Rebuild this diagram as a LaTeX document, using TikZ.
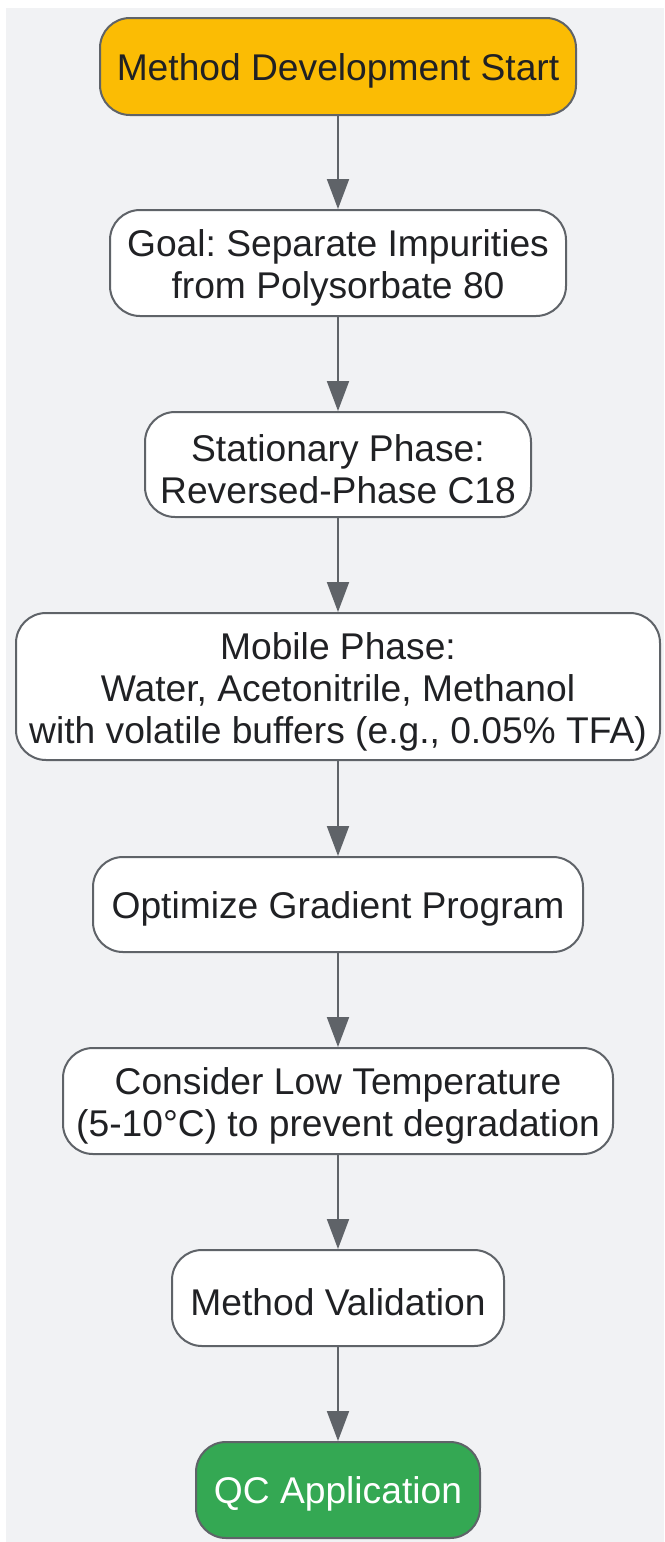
\documentclass[tikz,border=0pt]{standalone}
\usepackage{fontspec}
\setmainfont{Liberation Sans}
\usetikzlibrary{arrows.meta}
\definecolor{bggray}{HTML}{F1F2F4}
\definecolor{edgegray}{HTML}{5F6368}
\definecolor{txt}{HTML}{202124}
\definecolor{startyellow}{HTML}{FBBC04}
\definecolor{qcgreen}{HTML}{34A853}
\frenchspacing
\begin{document}
\begin{tikzpicture}[x=0.5pt,y=-0.5pt,
  box/.style={draw=edgegray, line width=1pt, rounded corners=15pt, fill=white, inner sep=0pt},
  lbl/.style={text=txt, align=center, inner sep=0pt, yshift=-2.5pt,
    font=\fontsize{18.6pt}{21pt}\selectfont\frenchspacing},
  lblone/.style={lbl, yshift=0.5pt},
  conn/.style={draw=edgegray, line width=1pt, -{Triangle[length=15pt,width=11pt]}}]
\useasboundingbox (0,0) rectangle (664,1542);
\fill[white] (0,0) rectangle (664,1542);
\fill[bggray] (6,8) rectangle (664,1542);
\node[box, fill=startyellow, minimum width=238pt, minimum height=48.5pt,
  label={[lblone, name=startT]center:Method Development Start}] (start) at (338,66.5) {};
\node[box, minimum width=228pt, minimum height=53pt,
  label={[lbl, name=goalT]center:Goal: Separate Impurities\\from Polysorbate 80}] (goal) at (338,263) {};
\node[box, minimum width=193pt, minimum height=52.5pt,
  label={[lbl, name=statT]center:Stationary Phase:\\Reversed-Phase C18}] (stat) at (338,464.5) {};
\node[box, minimum width=322pt, minimum height=73.5pt,
  label={[lbl, name=mobT]center:Mobile Phase:\\Water, Acetonitrile, Methanol\\with volatile buffers (e.g.{,} 0.05\% TFA)}] (mob) at (338,686.5) {};
\node[box, minimum width=245pt, minimum height=47.5pt,
  label={[lblone, name=optT]center:Optimize Gradient Program}] (opt) at (338,904.5) {};
\node[box, minimum width=275pt, minimum height=53pt,
  label={[lbl, name=consT]center:Consider Low Temperature\\(5-10°C) to prevent degradation}] (cons) at (338,1101) {};
\node[box, minimum width=166pt, minimum height=48pt,
  label={[lblone, name=valT]center:Method Validation}] (val) at (338,1298) {};
\node[box, fill=qcgreen, minimum width=142pt, minimum height=48pt,
  label={[lblone, text=white, name=qcT]center:QC Application}] (qc) at (338,1490) {};
\draw[conn] (start) -- (goal);
\draw[conn] (goal) -- (stat);
\draw[conn] (stat) -- (mob);
\draw[conn] (mob) -- (opt);
\draw[conn] (opt) -- (cons);
\draw[conn] (cons) -- (val);
\draw[conn] (val) -- (qc);
\end{tikzpicture}
\end{document}
